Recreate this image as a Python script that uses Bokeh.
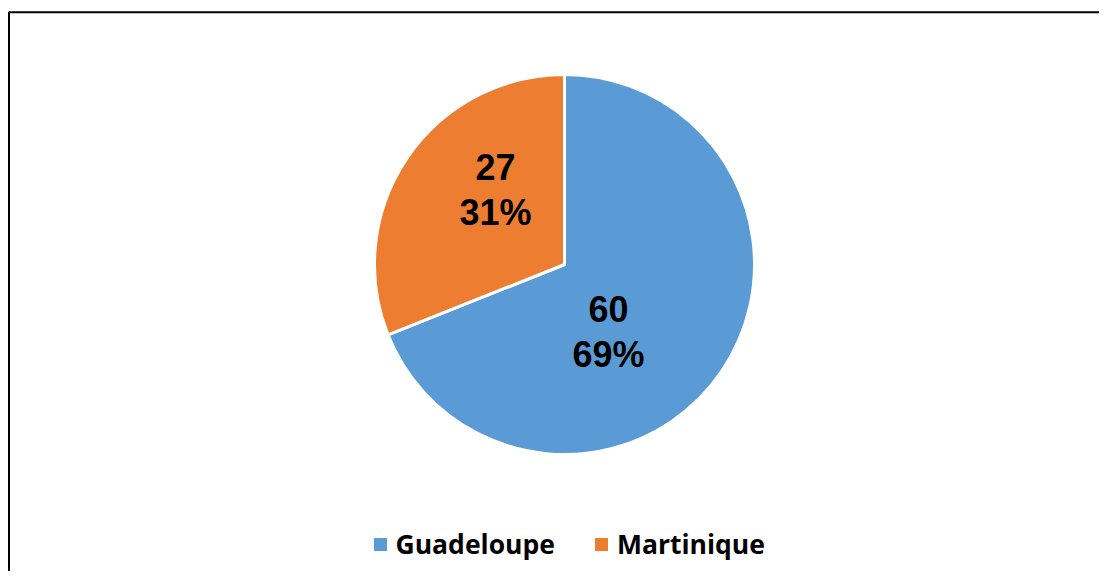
import numpy as np
from bokeh.plotting import figure
from bokeh.models import ColumnDataSource, Range1d, Legend, LegendItem
from bokeh.embed import file_html
from bokeh.resources import INLINE
from bokeh.core.properties import value

# ---- data ----
categories = ["Guadeloupe", "Martinique"]
counts = [60, 27]
colors = ["#5B9BD5", "#ED7D31"]

# ---- layout (pixels; 1 data unit == 1 px) ----
W, H = 1099, 571
CX, CY, R = 564, 307, 190
LABEL_DX = [44, -69]
LABEL_DY = [-67, 75]
LINE_GAP = 23

total = sum(counts)
fracs = np.array(counts) / total
ends = np.pi / 2 - 2 * np.pi * np.cumsum(fracs)
starts = np.concatenate([[np.pi / 2], ends[:-1]])
pcts = [f"{round(f * 100)}%" for f in fracs]

src = ColumnDataSource(dict(
    cat=categories, count=counts, color=colors,
    start=starts, end=ends,
    vx=[CX + dx for dx in LABEL_DX],
    vy=[CY + dy + LINE_GAP for dy in LABEL_DY],
    py=[CY + dy - LINE_GAP for dy in LABEL_DY],
    vtext=[str(c) for c in counts], ptext=pcts,
))

p = figure(width=W, height=H, output_backend="svg", toolbar_location=None,
           x_range=Range1d(0, W), y_range=Range1d(0, H),
           x_axis_location=None, y_axis_location=None,
           min_border=0, min_border_left=0, min_border_right=0,
           min_border_top=0, min_border_bottom=0)
p.grid.visible = False
p.outline_line_color = None
p.background_fill_color = "white"
p.border_fill_color = "white"

# chart frame (top and left edges visible)
p.line(x=[8.5, 8.5, W], y=[0, H - 11.8, H - 11.8], line_color="black", line_width=2)

wedges = p.wedge(x=CX, y=CY, radius=R, start_angle="start", end_angle="end",
                 direction="clock", fill_color="color", line_color="white",
                 line_width=3, source=src)

for ycol, tcol in (("vy", "vtext"), ("py", "ptext")):
    p.text(x="vx", y=ycol, text=tcol, source=src, text_align="center",
           text_baseline="middle", text_font=value("Liberation Sans"),
           text_font_style="bold", text_font_size="36px", text_color="black")

items = [LegendItem(label=c, renderers=[wedges], index=i) for i, c in enumerate(categories)]
legend = Legend(items=items, orientation="horizontal", location=(369.5, 9.5),
                glyph_width=20, glyph_height=20, label_standoff=6, spacing=36,
                label_text_font="Open Sans", label_text_font_style="bold",
                label_text_font_size="26.5px", label_text_color="black",
                label_height=36, padding=0, margin=0,
                border_line_color=None, background_fill_alpha=0)
p.add_layout(legend)

open("out.html", "w").write(file_html(p, INLINE))
